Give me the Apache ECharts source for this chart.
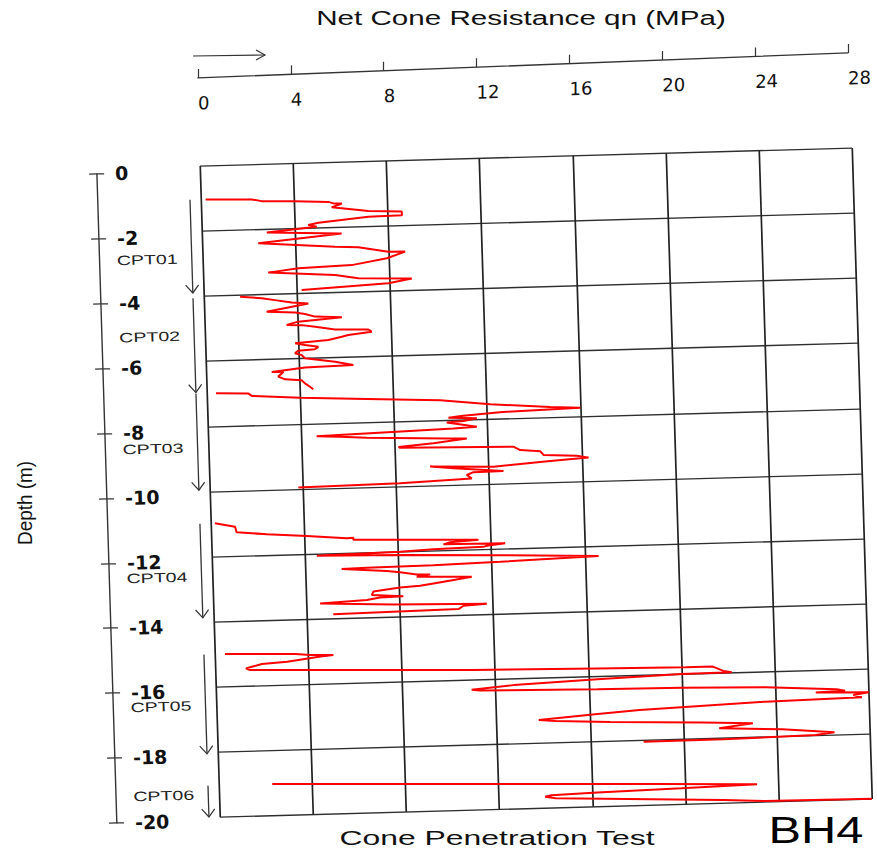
<!DOCTYPE html>
<html>
<head>
<meta charset="utf-8">
<script src="https://cdn.jsdelivr.net/npm/echarts@6/dist/echarts.min.js"></script>
<style>
  html, body { margin: 0; padding: 0; background: #fff; overflow: hidden; width: 877px; height: 855px; }
  .layer { position: absolute; left: 0; top: 0; width: 877px; height: 855px; transform-origin: 0 0; }
  /* the scanned log sheet is slightly sheared; reproduce that slant */
  #plot { transform: matrix(1, -0.0276, 0.0307, 1, 0, 0); }
  #scale { height: 130px; transform: matrix(1, -0.0385, 0, 1, 0, 0); }
</style>
</head>
<body>
<div id="plot" class="layer"></div>
<div id="scale" class="layer"></div>
<div id="labels" class="layer"></div>
<script>
// Net cone resistance qn (MPa) against depth (m, negative downwards), one trace per sounding
const cptNames = ['CPT01', 'CPT02', 'CPT03', 'CPT04', 'CPT05', 'CPT06'];
// depth at which each sounding's name is written
const cptNameDepth = [-2.84, -5.21, -8.65, -12.61, -16.57, -19.31];

const cpt01 = [[0.2,-1.03],[2.18,-1.07],[2.60,-1.13],[4.03,-1.16],[5.46,-1.21],[5.68,-1.26],[6.04,-1.27],[5.60,-1.38],[7.17,-1.52],[8.60,-1.57],[8.60,-1.68],[7.16,-1.70],[5.01,-1.84],[4.57,-1.90],[4.93,-1.96],[2.78,-2.10],[5.99,-2.19],[2.40,-2.42],[5.69,-2.59],[6.69,-2.63],[7.97,-2.79],[8.69,-2.80],[7.90,-2.99],[6.38,-3.17],[4.09,-3.22],[2.79,-3.33],[5.65,-3.46],[6.65,-3.58],[8.94,-3.63],[7.93,-3.76],[4.20,-3.89]];

const cpt02 = [[1.55,-4.05],[2.47,-4.11],[3.04,-4.18],[3.76,-4.27],[4.47,-4.31],[2.67,-4.53],[3.89,-4.58],[4.31,-4.63],[4.74,-4.72],[5.89,-4.76],[4.01,-4.86],[3.51,-4.95],[4.16,-4.97],[4.73,-5.03],[5.58,-5.13],[7.01,-5.16],[7.15,-5.23],[6.14,-5.31],[5.86,-5.36],[5.28,-5.45],[3.85,-5.52],[4.27,-5.58],[4.84,-5.65],[4.69,-5.72],[3.98,-5.75],[3.83,-5.83],[4.12,-5.89],[4.25,-5.99],[5.54,-6.12],[6.32,-6.24],[4.24,-6.27],[2.81,-6.38],[3.31,-6.39],[3.08,-6.53],[3.37,-6.62],[4.08,-6.66],[4.22,-6.76],[4.43,-6.87],[4.57,-6.95]];

const cpt03 = [[0.39,-6.99],[1.77,-7.02],[1.92,-7.10],[3.99,-7.20],[6.85,-7.29],[10.0,-7.39],[12.14,-7.56],[14.71,-7.69],[16.0,-7.74],[12.55,-7.81],[10.97,-7.89],[10.33,-7.94],[11.55,-7.98],[10.97,-8.05],[10.25,-8.08],[11.54,-8.24],[10.53,-8.27],[8.09,-8.32],[4.65,-8.39],[5.65,-8.43],[6.80,-8.48],[10.23,-8.57],[11.09,-8.59],[9.65,-8.71],[8.15,-8.79],[8.22,-8.82],[13.08,-8.88],[13.37,-8.99],[14.22,-9.04],[14.36,-9.16],[15.79,-9.21],[16.29,-9.28],[14.64,-9.35],[12.2,-9.48],[9.48,-9.42],[10.48,-9.49],[12.62,-9.62],[11.33,-9.63],[11.04,-9.71],[11.25,-9.82],[8.17,-9.91],[3.80,-9.95]];

const cpt04 = [[0.17,-10.98],[1.03,-11.10],[1.09,-11.27],[2.38,-11.36],[4.09,-11.45],[5.81,-11.55],[6.09,-11.54],[6.09,-11.60],[8.09,-11.64],[11.46,-11.71],[10.24,-11.76],[9.95,-11.82],[12.6,-11.84],[11.81,-11.90],[11.66,-11.93],[9.51,-11.96],[8.08,-12.01],[4.50,-12.06],[8.07,-12.11],[12.37,-12.20],[16.59,-12.31],[12.36,-12.40],[9.49,-12.45],[6.63,-12.47],[5.55,-12.49],[7.48,-12.59],[8.05,-12.64],[8.77,-12.72],[9.34,-12.73],[8.76,-12.79],[10.34,-12.82],[11.12,-12.84],[10.34,-12.92],[9.47,-13.01],[8.89,-13.07],[8.03,-13.11],[6.88,-13.21],[6.81,-13.31],[8.16,-13.38],[7.16,-13.40],[6.59,-13.46],[4.58,-13.53],[7.72,-13.62],[11.73,-13.68],[10.73,-13.72],[10.51,-13.82],[5.13,-13.87]];

const cpt05 = [[0.43,-15.0],[3.46,-15.06],[4.08,-15.10],[5.08,-15.12],[4.53,-15.16],[3.09,-15.29],[2.0,-15.34],[1.31,-15.46],[1.46,-15.51],[11.0,-15.70],[16.4,-15.76],[20.18,-15.80],[21.35,-15.80],[21.79,-15.94],[22.15,-15.99],[19.99,-16.0],[16.38,-16.09],[12.78,-16.20],[10.97,-16.31],[11.33,-16.34],[16.37,-16.40],[19.97,-16.42],[23.58,-16.48],[26.63,-16.60],[26.99,-16.65],[25.73,-16.68],[28,-16.72],[27.34,-16.79],[27.70,-16.87],[23.56,-16.92],[18.15,-17.07],[16.34,-17.16],[13.81,-17.29],[14.53,-17.34],[16.87,-17.41],[20.83,-17.51],[22.99,-17.57],[21.54,-17.70],[24.24,-17.78],[26.48,-17.92],[25.67,-17.99],[21.70,-18.04],[18.28,-18.05]];

const cpt06 = [[2.29,-19.03],[14.08,-19.26],[18.59,-19.35],[22.55,-19.44],[23.09,-19.45],[19.84,-19.51],[16.23,-19.57],[14.25,-19.61],[13.98,-19.65],[14.43,-19.71],[21.62,-19.90],[23.42,-19.97],[28,-19.99]];

const traces = [cpt01, cpt02, cpt03, cpt04, cpt05, cpt06];

// axis ranges
const qnMin = 0, qnMax = 28, qnStep = 4;
const depthMin = -20, depthMax = 0, depthStep = 2;

// depth interval of each sounding, taken from its own trace, plus where its name goes
const cptRanges = traces.map((t, i) => {
  const ds = t.map(p => p[1]);
  return [Math.max(...ds), Math.min(...ds), cptNameDepth[i]];
});

const INK = '#222';
const NUM_FONT = '"DejaVu Sans", "Liberation Sans", Arial, sans-serif';
const TXT_FONT = '"Liberation Sans", Arial, sans-serif';

// ---------- main profile panel ----------
const plot = echarts.init(document.getElementById('plot'), null, { renderer: 'svg' });
plot.setOption({
  animation: false,
  grid: [
    { left: 194.7, top: 171.4, width: 652, height: 651, show: false },
    { left: 91.7, top: 176.4, width: 10, height: 649, show: false }
  ],
  xAxis: [
    {
      gridIndex: 0, type: 'value', min: qnMin, max: qnMax, interval: qnStep, position: 'top',
      axisLine: { show: false, onZero: false }, axisTick: { show: false }, axisLabel: { show: false },
      splitLine: { show: true, lineStyle: { color: INK, width: 1.7 } }
    },
    { gridIndex: 1, type: 'value', min: 0, max: 1, show: false }
  ],
  yAxis: [
    {
      gridIndex: 0, type: 'value', min: depthMin, max: depthMax, interval: depthStep,
      axisLine: { show: false, onZero: false }, axisTick: { show: false }, axisLabel: { show: false },
      splitLine: { show: true, lineStyle: { color: '#2e2e2e', width: 1.4 } }
    },
    {
      gridIndex: 1, type: 'value', min: depthMin, max: depthMax, interval: depthStep, position: 'left',
      axisLine: { show: true, onZero: false, lineStyle: { color: '#333', width: 1.4 } },
      axisTick: { show: true, inside: true, length: 7, lineStyle: { color: '#333', width: 1.2 } },
      axisLabel: { inside: true, margin: 18, color: '#111', fontFamily: NUM_FONT, fontSize: 19, fontWeight: 'bold' },
      splitLine: { show: false }
    },
    {
      gridIndex: 1, type: 'value', min: depthMin, max: depthMax, interval: depthStep, position: 'left',
      axisLine: { show: false, onZero: false },
      axisTick: { show: true, inside: false, length: 8, lineStyle: { color: '#333', width: 1.2 } },
      axisLabel: { show: false }, splitLine: { show: false }
    }
  ],
  series: traces.map((t, i) => ({
    name: cptNames[i], type: 'line', xAxisIndex: 0, yAxisIndex: 0,
    data: t, showSymbol: false, symbol: 'none',
    lineStyle: { color: '#ff0000', width: 2 }
  })).concat([{
    // sounding interval arrows and their names, left of the grid
    type: 'custom', xAxisIndex: 0, yAxisIndex: 0, clip: false,
    data: cptRanges,
    renderItem: function (params, api) {
      const top = api.value(0), bottom = api.value(1), nameAt = api.value(2);
      const p0 = api.coord([qnMin, top]);
      const p1 = api.coord([qnMin, bottom]);
      const pl = api.coord([qnMin, nameAt]);
      const x = p0[0] - 11;
      return {
        type: 'group',
        children: [
          { type: 'line', shape: { x1: x, y1: p0[1], x2: x, y2: p1[1] },
            style: { stroke: '#333', lineWidth: 1.3 } },
          { type: 'polyline', shape: { points: [[x - 7, p1[1] - 8], [x, p1[1]], [x + 6, p1[1] - 8]] },
            style: { stroke: '#333', fill: null, lineWidth: 1.2 } },
          { type: 'text', x: pl[0] - 86, y: pl[1], scaleX: 1.45,
            style: { text: cptNames[params.dataIndex], x: 0, y: 0, align: 'left', verticalAlign: 'middle',
                     font: '13.5px ' + TXT_FONT, fill: '#222' } }
        ]
      };
    }
  }])
});

// ---------- qn scale along the top ----------
const scale = echarts.init(document.getElementById('scale'), null, { renderer: 'svg' });
scale.setOption({
  animation: false,
  grid: { left: 198, top: 85.6, width: 650, height: 20, show: false },
  xAxis: {
    type: 'value', min: qnMin, max: qnMax, interval: qnStep, position: 'top',
    axisLine: { show: true, onZero: false, lineStyle: { color: '#333', width: 1.4 } },
    axisTick: { show: true, length: 9, lineStyle: { color: '#333', width: 1.2 } },
    axisLabel: { inside: true, margin: 16, align: 'left', color: '#111', fontFamily: NUM_FONT, fontSize: 18 },
    splitLine: { show: false }
  },
  yAxis: { type: 'value', show: false, min: 0, max: 1 }
});

// ---------- titles ----------
const labels = echarts.init(document.getElementById('labels'), null, { renderer: 'svg' });
labels.setOption({
  animation: false,
  graphic: [
    { type: 'text', x: 521, y: 18, scaleX: 1.41,
      style: { text: 'Net Cone Resistance qn (MPa)', align: 'center', verticalAlign: 'middle', font: '21px ' + TXT_FONT, fill: '#111' } },
    { type: 'polyline', shape: { points: [[193, 56], [265, 55]] }, style: { stroke: '#333', lineWidth: 1.2, fill: null } },
    { type: 'polyline', shape: { points: [[256, 50], [265, 55], [256, 60]] }, style: { stroke: '#333', lineWidth: 1.2, fill: null } },
    { type: 'text', x: 497, y: 838, scaleX: 1.52,
      style: { text: 'Cone Penetration Test', align: 'center', verticalAlign: 'middle', font: '21px ' + TXT_FONT, fill: '#111' } },
    { type: 'text', x: 816, y: 830, scaleX: 1.32,
      style: { text: 'BH4', align: 'center', verticalAlign: 'middle', font: '37px ' + TXT_FONT, fill: '#000' } },
    { type: 'text', x: 25, y: 503, rotation: Math.PI / 2, scaleX: 0.9,
      style: { text: 'Depth (m)', align: 'center', verticalAlign: 'middle', font: '21px ' + TXT_FONT, fill: '#111' } }
  ]
});
</script>
</body>
</html>
